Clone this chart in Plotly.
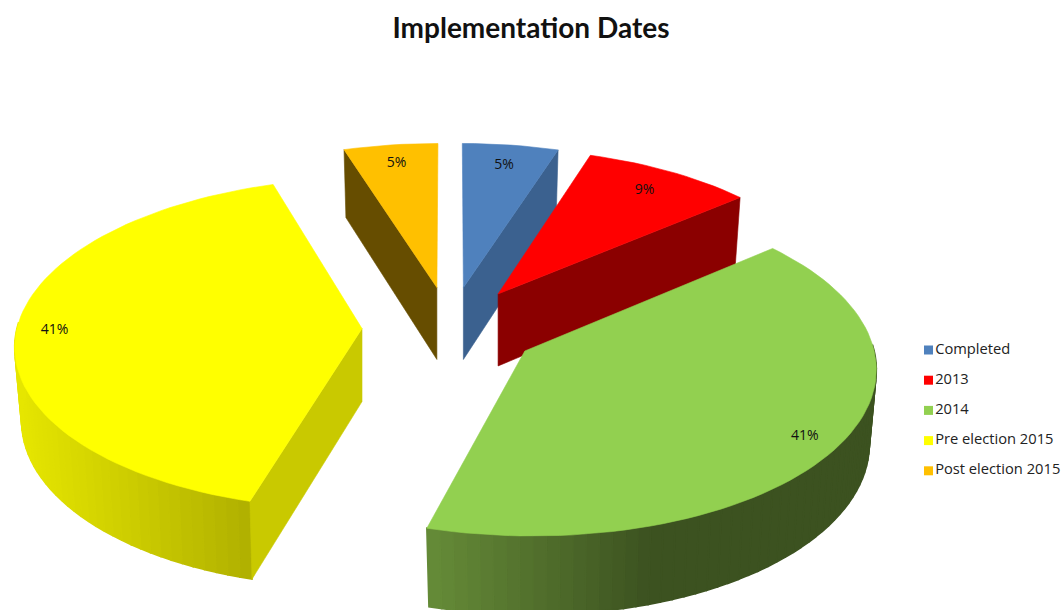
import math
import plotly.graph_objects as go

# ---- data ----
categories = ["Completed", "2013", "2014", "Pre election 2015", "Post election 2015"]
values = [5.0, 8.9, 40.8, 40.9, 4.9]
data_labels = ["5%", "9%", "41%", "41%", "5%"]
top_colors = ["#4f81bd", "#ff0000", "#92d050", "#ffff00", "#ffc000"]
side_colors = ["#3b618f", "#8b0000", "#3c5220", "#c9c900", "#664d00"]
title_text = "Implementation Dates"

# ---- view / projection parameters ----
CX, CY = 450.0, 328.0
A, B = 345.0, 164.0     # horizontal / vertical radius on screen
K = 0.09                # perspective strength
H = 73.0                # pie thickness
PULL = 0.255            # explosion of each slice, as fraction of radius
W, HT = 1061, 610
LABEL_R = [0.85, 0.84, 0.90, 0.89, 0.86]


def project(x, y, z=0.0):
    w = 1 + K * y
    return CX + A * x / w, CY - B * y / w + z * H / w ** 0.7


def mix(c1, c2, t):
    t = max(0, min(1, t))
    a = [int(c1[i:i + 2], 16) for i in (1, 3, 5)]
    b = [int(c2[i:i + 2], 16) for i in (1, 3, 5)]
    return "rgb(%d,%d,%d)" % tuple(round(p + (q - p) * t) for p, q in zip(a, b))


def poly(fig, pts, color, lw=0.6):
    fig.add_trace(go.Scatter(
        x=[p[0] for p in pts] + [pts[0][0]],
        y=[p[1] for p in pts] + [pts[0][1]],
        mode="lines", fill="toself", fillcolor=color,
        line=dict(color=color, width=lw), hoverinfo="skip", showlegend=False))


def rad(d):
    return math.radians(d)


total = sum(values)
angles = []
start = 0.0
for v in values:
    end = start + 360.0 * v / total
    angles.append((start, end))
    start = end

fig = go.Figure()
label_xy = []


def draw_slice(i):
    a0, a1 = angles[i]
    mid = (a0 + a1) / 2
    px, py = PULL * math.sin(rad(mid)), PULL * math.cos(rad(mid))

    def rim(th, z=0.0):
        s = 0.98 if z else 1.0
        return project(px + s * math.sin(rad(th)), py + math.cos(rad(th)), z)

    apex_t, apex_b = project(px, py, 0), project(px, py, 1)
    n = max(6, int((a1 - a0) / 2))
    ths = [a0 + (a1 - a0) * k / n for k in range(n + 1)]

    # curved outer wall (front-facing part only), gradient by screen x
    if categories[i] in ("2014", "Pre election 2015"):
        strips = [(t0, t1) for t0, t1 in zip(ths[:-1], ths[1:])
                  if math.cos(rad((t0 + t1) / 2)) <= 0.04]
        for t0, t1 in strips:
            p0, p1 = rim(t0), rim(t1)
            q0, q1 = rim(t0, 1), rim(t1, 1)
            xm = (p0[0] + p1[0]) / 2
            if categories[i] == "2014":
                col = mix("#668c38", side_colors[i], (xm - 425) / 225)
            else:
                col = mix("#e6e600", "#b0b000", (xm - 18) / 232)
            poly(fig, [p0, p1, q1, q0], col, lw=1.6)

    # visible radial face
    if categories[i] in ("Pre election 2015", "Post election 2015"):
        edge = a0
    elif categories[i] in ("Completed", "2013"):
        edge = a1
    else:
        edge = None
    if edge is not None:
        poly(fig, [apex_t, rim(edge), rim(edge, 1), apex_b], side_colors[i])

    # top surface
    poly(fig, [apex_t] + [rim(t) for t in ths], top_colors[i])

    r = LABEL_R[i]
    label_xy.append((i, project(px + r * math.sin(rad(mid)), py + r * math.cos(rad(mid)))))


for i in [4, 0, 1, 2, 3]:
    draw_slice(i)

# data labels
label_xy.sort()
fig.add_trace(go.Scatter(
    x=[p[1][0] for p in label_xy], y=[p[1][1] for p in label_xy],
    text=data_labels, mode="text", textposition="middle center",
    textfont=dict(family="Open Sans", size=14, color="#111111"),
    hoverinfo="skip", showlegend=False))

# legend
LEG_Y0, LEG_DY = 350, 30.2
fig.add_trace(go.Scatter(
    x=[928.5] * len(categories),
    y=[LEG_Y0 + LEG_DY * k for k in range(len(categories))],
    text=categories, mode="markers+text", textposition="middle right",
    marker=dict(symbol="square", size=9, color=top_colors),
    textfont=dict(family="Open Sans", size=14.7, color="#222222"),
    hoverinfo="skip", showlegend=False))

fig.update_layout(
    width=W, height=HT, margin=dict(l=0, r=0, t=0, b=0),
    paper_bgcolor="white", plot_bgcolor="white", showlegend=False,
    xaxis=dict(range=[0, W], visible=False, fixedrange=True),
    yaxis=dict(range=[HT, 0], visible=False, fixedrange=True),
    title=dict(text="<b>%s</b>" % title_text, x=531 / W, y=1 - 28 / HT,
               xanchor="center", yanchor="middle",
               font=dict(family="Lato", size=28, color="#111111")),
)
fig.write_html("out.html", config=dict(displayModeBar=False),
               post_script="document.body.style.margin='0';document.body.style.overflow='hidden';")
